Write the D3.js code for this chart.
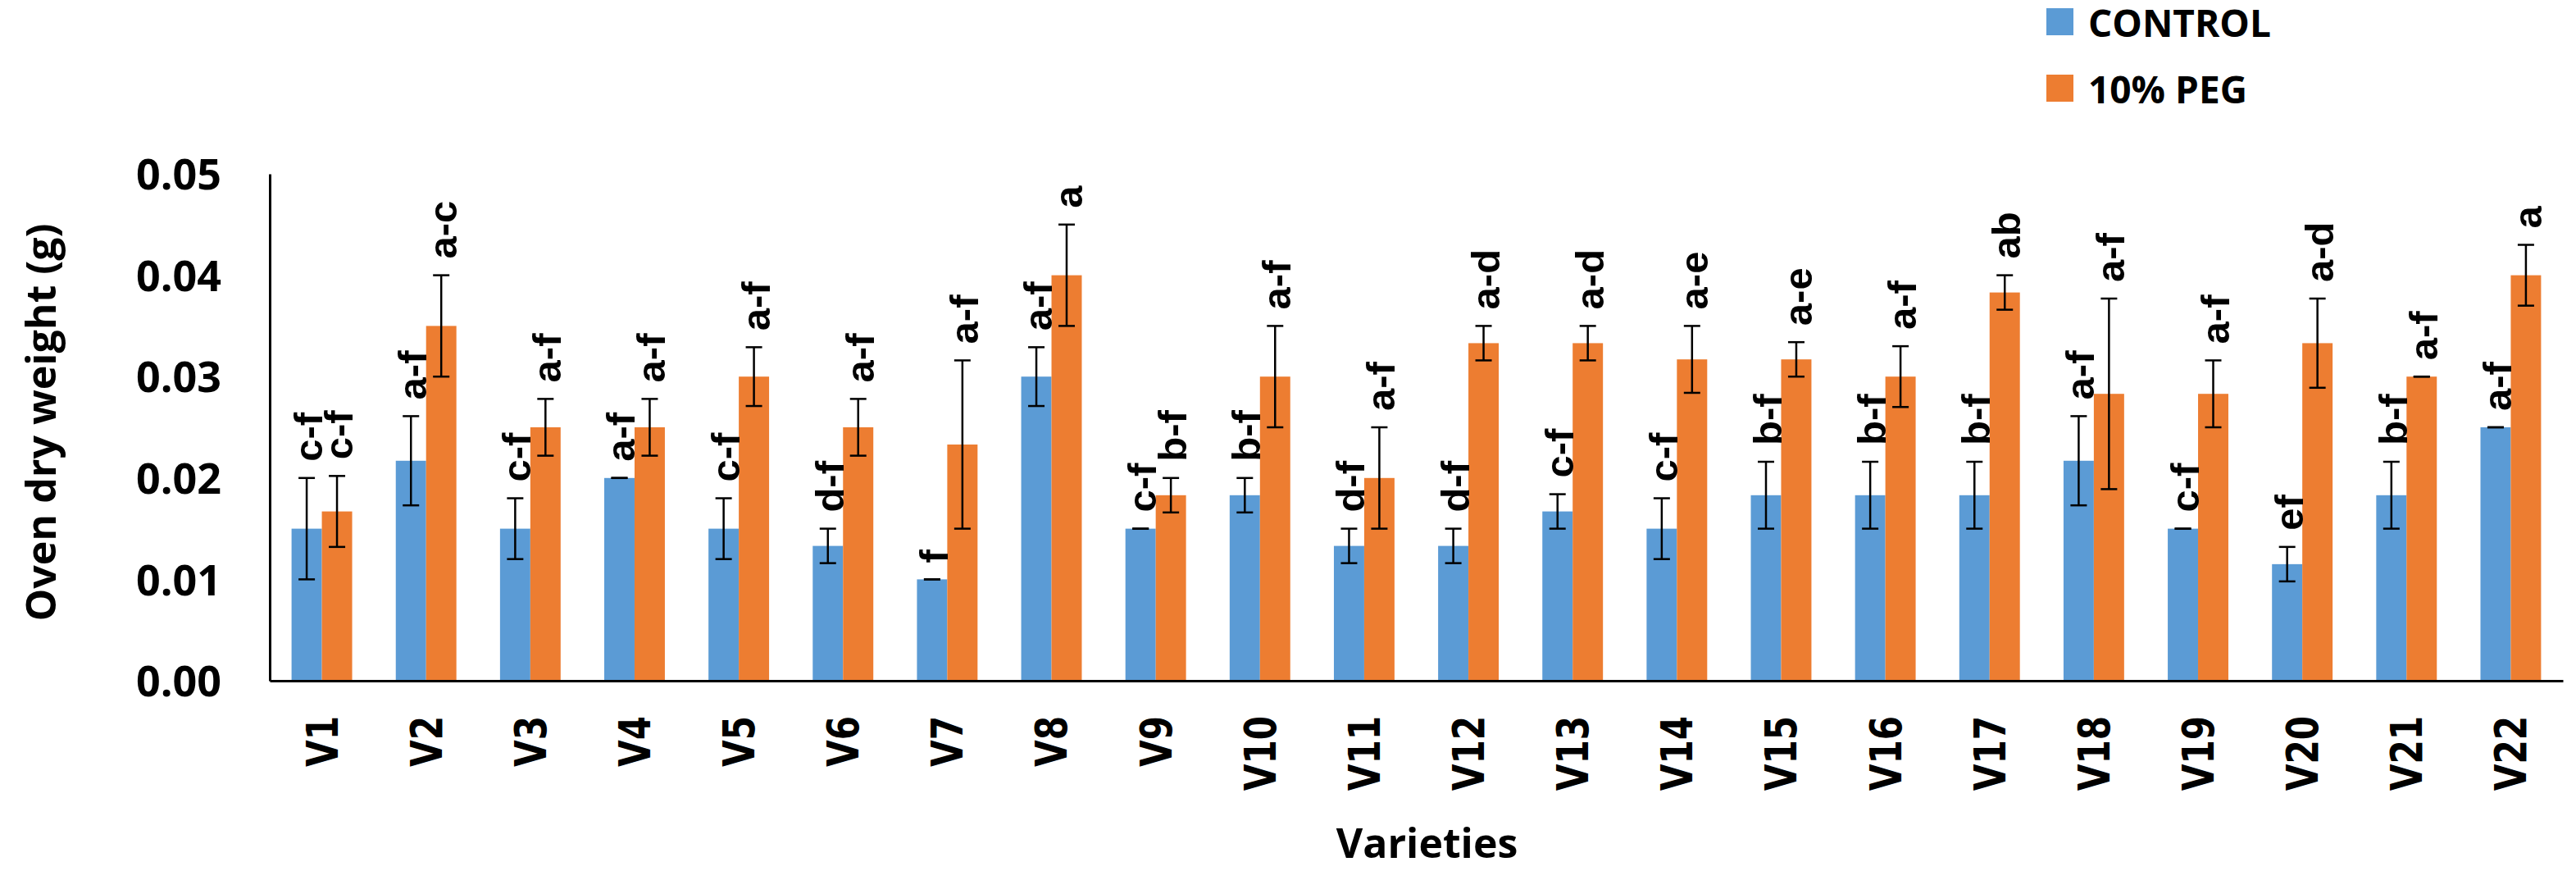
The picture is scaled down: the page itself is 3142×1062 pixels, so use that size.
<!DOCTYPE html>
<html>
<head>
<meta charset="utf-8">
<script src="https://cdn.jsdelivr.net/npm/d3@7"></script>
<style>
  body { margin: 0; background: #fff; }
  svg { display: block; }
</style>
</head>
<body>
<svg class="chart" width="3142" height="1062"></svg>
<script>

// varieties on the x axis
var varieties = ["V1","V2","V3","V4","V5","V6","V7","V8","V9","V10","V11",
                 "V12","V13","V14","V15","V16","V17","V18","V19","V20","V21","V22"];
var series = ["CONTROL", "10% PEG"];

// oven dry weight (g)
var control = [0.015, 0.0217, 0.015, 0.020, 0.015, 0.0133, 0.010, 0.030, 0.015, 0.0183, 0.0133,
               0.0133, 0.0167, 0.015, 0.0183, 0.0183, 0.0183, 0.0217, 0.015, 0.0115, 0.0183, 0.025];
var controlErr = [0.005, 0.0044, 0.003, 0, 0.003, 0.0017, 0, 0.0029, 0, 0.0017, 0.0017,
                  0.0017, 0.0017, 0.003, 0.0033, 0.0033, 0.0033, 0.0044, 0, 0.0017, 0.0033, 0];
var peg = [0.0167, 0.035, 0.025, 0.025, 0.030, 0.025, 0.0233, 0.040, 0.0183, 0.030, 0.020,
           0.0333, 0.0333, 0.0317, 0.0317, 0.030, 0.0383, 0.0283, 0.0283, 0.0333, 0.030, 0.040];
var pegErr = [0.0035, 0.005, 0.0028, 0.0028, 0.0029, 0.0028, 0.0083, 0.005, 0.0017, 0.005, 0.005,
              0.0017, 0.0017, 0.0033, 0.0017, 0.003, 0.0017, 0.0094, 0.0033, 0.0044, 0, 0.003];

// significance letters
var controlLetters = ["c-f","a-f","c-f","a-f","c-f","d-f","f","a-f","c-f","b-f","d-f",
                      "d-f","c-f","c-f","b-f","b-f","b-f","a-f","c-f","ef","b-f","a-f"];
var pegLetters = ["c-f","a-c","a-f","a-f","a-f","a-f","a-f","a","b-f","a-f","a-f",
                  "a-d","a-d","a-e","a-e","a-f","ab","a-f","a-f","a-d","a-f","a"];

var yTicks = [0, 0.01, 0.02, 0.03, 0.04, 0.05];

var colors = d3.scaleOrdinal().domain(series).range(["#5B9BD5", "#ED7D31"]);

// flatten into one row per bar
var bars = [];
for (var i = 0; i < varieties.length; i++){
    bars.push({v: varieties[i], s: series[0], val: control[i], err: controlErr[i], lab: controlLetters[i]});
    bars.push({v: varieties[i], s: series[1], val: peg[i], err: pegErr[i], lab: pegLetters[i]});
}

var svg = d3.select("svg.chart");
var plotLeft = 329, plotRight = 3126, plotTop = 212, plotBottom = 830;

var x = d3.scaleBand().domain(varieties).range([plotLeft, plotRight]);
var xs = d3.scaleBand().domain(series).range([0, x.bandwidth()]).paddingOuter(0.72);
var y = d3.scaleLinear().domain([0, 0.05]).range([plotBottom, plotTop]);

// bars
svg.append("g")
    .selectAll("rect")
    .data(bars)
    .enter()
    .append("rect")
        .attr("x", d => x(d.v) + xs(d.s))
        .attr("width", xs.bandwidth())
        .attr("y", d => y(d.val))
        .attr("height", d => y(0) - y(d.val))
        .attr("fill", d => colors(d.s));

// error bars
var eb = svg.append("g")
    .selectAll("g.err")
    .data(bars)
    .enter()
    .append("g")
        .attr("class", "err")
        .attr("transform", d => `translate(${x(d.v) + xs(d.s) + xs.bandwidth() / 2},0)`)
        .style("stroke", "#000")
        .style("stroke-width", 2.5);
eb.append("line")
    .attr("y1", d => y(d.val + d.err))
    .attr("y2", d => y(d.val - d.err));
eb.append("line")
    .attr("x1", -10).attr("x2", 10)
    .attr("y1", d => y(d.val + d.err))
    .attr("y2", d => y(d.val + d.err));
eb.append("line")
    .attr("x1", -10).attr("x2", 10)
    .attr("y1", d => y(d.val - d.err))
    .attr("y2", d => y(d.val - d.err));

// letters above the error bars
svg.append("g")
    .selectAll("text")
    .data(bars)
    .enter()
    .append("text")
        .attr("transform", d => `translate(${x(d.v) + xs(d.s) + xs.bandwidth() / 2 + 2},${y(d.val + d.err) - 20}) rotate(-90)`)
        .attr("dominant-baseline", "central")
        .style("font-family", "'Liberation Sans', Arial, sans-serif")
        .style("font-weight", "bold")
        .style("font-size", "49px")
        .text(d => d.lab);

// y axis
var yAxis = svg.append("g")
    .attr("transform", `translate(${plotLeft},0)`)
    .call(d3.axisLeft(y).tickValues(yTicks).tickFormat(d3.format(".2f")).tickSize(0).tickPadding(59));
yAxis.select(".domain").style("stroke", "#000").style("stroke-width", 3);
yAxis.selectAll("text")
    .style("font-family", "'Open Sans', sans-serif")
    .style("font-weight", "bold")
    .style("font-size", "52px")
    .attr("dy", "0.36em");

// x axis
var xAxis = svg.append("g")
    .attr("transform", `translate(0,${plotBottom})`)
    .call(d3.axisBottom(x).tickSize(0).tickSizeOuter(0));
xAxis.select(".domain").style("stroke", "#000").style("stroke-width", 3);
xAxis.selectAll("text")
    .attr("y", 0).attr("dy", null)
    .attr("transform", "translate(0,43) rotate(-90) scale(0.78,1)")
    .attr("text-anchor", "end")
    .attr("dominant-baseline", "central")
    .style("font-family", "'DejaVu Sans', sans-serif")
    .style("font-weight", "bold")
    .style("font-size", "54px");

// axis titles
svg.append("text")
    .attr("transform", "translate(68,515) rotate(-90)")
    .attr("text-anchor", "middle")
    .style("font-family", "'Open Sans', sans-serif")
    .style("font-weight", "bold")
    .style("font-size", "50px")
    .text("Oven dry weight (g)");

svg.append("text")
    .attr("x", (plotLeft + plotRight) / 2 + 13)
    .attr("y", 1046)
    .attr("text-anchor", "middle")
    .style("font-family", "'Open Sans', sans-serif")
    .style("font-weight", "bold")
    .style("font-size", "50px")
    .text("Varieties");

// legend
var legend = svg.append("g")
    .selectAll("g.leg")
    .data(series)
    .enter()
    .append("g")
        .attr("class", "leg")
        .attr("transform", (d, i) => `translate(2496,${10 + i * 81})`);
legend.append("rect")
    .attr("width", 33).attr("height", 33)
    .attr("fill", d => colors(d));
legend.append("text")
    .attr("x", 51).attr("y", 35)
    .style("font-family", "'Open Sans', sans-serif")
    .style("font-weight", "bold")
    .style("font-size", "46px")
    .text(d => d);

</script>
</body>
</html>
